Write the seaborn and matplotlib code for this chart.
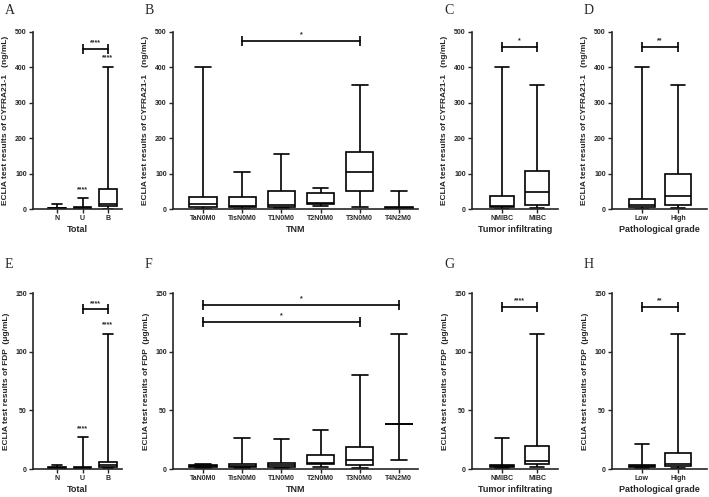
import numpy as np
import pandas as pd
import matplotlib
matplotlib.use("Agg")
import matplotlib.pyplot as plt
import seaborn as sns

# ---------------- groups ----------------
total_groups = ["N", "U", "B"]
tnm_groups = ["TaN0M0", "TisN0M0", "T1N0M0", "T2N0M0", "T3N0M0", "T4N2M0"]
infil_groups = ["NMIBC", "MIBC"]
grade_groups = ["Low", "High"]

# ---------------- box values (min, Q1, median, Q3, max) ----------------
cyfra_total = [[0, 1, 2, 3, 15], [0, 1, 3, 7, 30], [0.5, 8, 15, 57, 400]]
cyfra_tnm = [[1, 7, 14, 35, 400], [0, 6, 8, 35, 104], [2, 7, 11, 51, 156],
             [8, 13, 18, 46, 60], [5, 50, 104, 162, 350], [0, 1, 3, 5, 50]]
cyfra_infil = [[1, 7, 9, 37, 400], [4, 11, 49, 106, 350]]
cyfra_grade = [[1, 6, 10, 27, 400], [2, 10, 36, 100, 350]]

fdp_total = [[0, 0.5, 1, 2, 3], [0, 0.5, 1, 2, 27], [1, 1.5, 3, 6, 115]]
fdp_tnm = [[1, 1.5, 2.5, 3, 4.5], [0.5, 1.5, 2.5, 4, 26], [0.5, 2, 3, 5, 25.5],
           [2, 4.5, 5, 11.6, 33], [1, 3, 8, 19, 80], [7.5, 38, 38, 38, 115]]
fdp_infil = [[0.5, 1.5, 2.5, 3.5, 26], [1.5, 4.5, 7, 19.5, 115]]
fdp_grade = [[0.5, 1.5, 2.5, 3.5, 21], [1, 2.5, 4.5, 13.5, 115]]

# ---------------- significance marks ----------------
# brackets: (first group, second group, height, label)
cyfra_total_br = [(1, 2, 453, "****")]
cyfra_total_st = [(1, 45, "****"), (2, 418, "****")]
cyfra_tnm_br = [(1, 4, 474, "*")]
cyfra_infil_br = [(0, 1, 459, "*")]
cyfra_grade_br = [(0, 1, 459, "**")]

fdp_total_br = [(1, 2, 136, "****")]
fdp_total_st = [(1, 31, "****"), (2, 120, "****")]
fdp_tnm_br = [(0, 5, 139.5, "*"), (0, 4, 125, "*")]
fdp_infil_br = [(0, 1, 138, "****")]
fdp_grade_br = [(0, 1, 138, "**")]

cyfra_label = "ECLIA test results of CYFRA21-1   (ng/mL)"
fdp_label = "ECLIA test results of FDP  (\u03bcg/mL)"

sns.set_style("ticks")
plt.rcParams["font.family"] = ["Liberation Sans", "DejaVu Sans"]
plt.rcParams["font.weight"] = "bold"

W, H = 709, 497
fig = plt.figure(figsize=(W / 100, H / 100), dpi=100)


def draw_panel(px, py, groups, stats, ymax, ystep, xlim, ylabel, xlabel, letter,
               brackets=(), stars=()):
    x0, x1 = px
    y0, y1 = py
    ax = fig.add_axes([x0 / W, 1 - y1 / H, (x1 - x0) / W, (y1 - y0) / H])
    df = pd.DataFrame({
        "group": np.repeat(groups, 5),
        "value": np.concatenate(stats),
    })
    sns.boxplot(data=df, x="group", y="value", order=groups, ax=ax,
                whis=(0, 100), width=0.7, color="white", linecolor="black",
                linewidth=1.2, showfliers=False,
                medianprops={"linewidth": 1.2}, capwidths=0.4)
    ax.set_ylim(0, ymax)
    ax.set_xlim(*xlim)
    ax.set_yticks(np.arange(0, ymax + 1, ystep))
    ax.tick_params(axis="both", labelsize=5, length=3, width=1.0, pad=1.5)
    ax.set_ylabel(ylabel, fontsize=6, fontweight="bold", labelpad=4)
    ax.set_xlabel(xlabel, fontsize=6.5, fontweight="bold", labelpad=2)
    for lab in ax.get_xticklabels() + ax.get_yticklabels():
        lab.set_fontweight("bold")
    sns.despine(ax=ax)
    for s in ["left", "bottom"]:
        ax.spines[s].set_linewidth(1.2)
    ax.spines["left"].set_bounds(0, ymax)
    for a, b, h, t in brackets:
        ax.plot([a, b], [h, h], color="black", lw=1.2, clip_on=False)
        ax.plot([a, b], [h, h], color="black", lw=0, marker="|",
                markersize=7, markeredgewidth=1.2, clip_on=False)
        ax.text((a + b) / 2, h + ymax * 0.015, t, ha="center", va="bottom",
                fontsize=5, fontweight="bold")
    for i, h, t in stars:
        ax.text(i, h, t, ha="center", va="bottom", fontsize=5, fontweight="bold")
    fig.text((x0 - 28) / W, 1 - (y0 - 22 - (y0 > 100) * 6) / H, letter,
             fontsize=10, family="Liberation Serif", fontweight="normal",
             va="center")
    return ax


top = (32, 209)
bot = (293, 469)

draw_panel((33, 122), top, total_groups, cyfra_total, 500, 100, (-0.96, 2.56),
           cyfra_label, "Total", "A", cyfra_total_br, cyfra_total_st)
draw_panel((173, 418), top, tnm_groups, cyfra_tnm, 500, 100, (-0.77, 5.49),
           cyfra_label, "TNM", "B", cyfra_tnm_br)
draw_panel((472, 558), top, infil_groups, cyfra_infil, 500, 100, (-0.86, 1.6),
           cyfra_label, "Tumor infiltrating", "C", cyfra_infil_br)
draw_panel((612, 707), top, grade_groups, cyfra_grade, 500, 100, (-0.83, 1.8),
           cyfra_label, "Pathological grade", "D", cyfra_grade_br)

draw_panel((33, 122), bot, total_groups, fdp_total, 150, 50, (-0.96, 2.56),
           fdp_label, "Total", "E", fdp_total_br, fdp_total_st)
draw_panel((173, 418), bot, tnm_groups, fdp_tnm, 150, 50, (-0.77, 5.49),
           fdp_label, "TNM", "F", fdp_tnm_br)
draw_panel((472, 558), bot, infil_groups, fdp_infil, 150, 50, (-0.86, 1.6),
           fdp_label, "Tumor infiltrating", "G", fdp_infil_br)
draw_panel((612, 707), bot, grade_groups, fdp_grade, 150, 50, (-0.83, 1.8),
           fdp_label, "Pathological grade", "H", fdp_grade_br)

fig.savefig("out.png", dpi=100)
